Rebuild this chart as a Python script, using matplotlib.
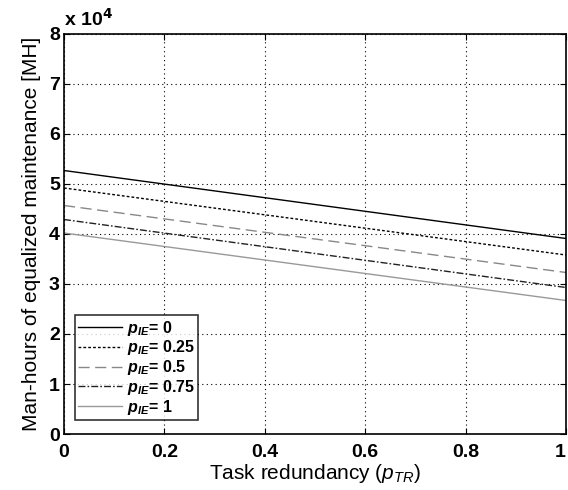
import numpy as np
import matplotlib.pyplot as plt

plt.rcParams["font.family"] = ["Liberation Sans", "DejaVu Sans"]
plt.rcParams["mathtext.fontset"] = "custom"
plt.rcParams["mathtext.it"] = "Liberation Sans:italic"
plt.rcParams["mathtext.bfit"] = "Liberation Sans:italic:bold"
plt.rcParams["mathtext.rm"] = "Liberation Sans"

# task redundancy p_TR
p_tr = [0.0, 1.0]
# man-hours of equalized maintenance [MH], one series per p_IE
mh_ie_0 = [52700, 39100]
mh_ie_025 = [49200, 35800]
mh_ie_05 = [45700, 32300]
mh_ie_075 = [42900, 29300]
mh_ie_1 = [40200, 26700]
labels = ["0", "0.25", "0.5", "0.75", "1"]

series = [mh_ie_0, mh_ie_025, mh_ie_05, mh_ie_075, mh_ie_1]
styles = [
    dict(color="black", linestyle="-", linewidth=1.0),
    dict(color="black", linestyle=(0, (2, 1.5)), linewidth=1.0),
    dict(color="#888888", linestyle=(0, (8, 4)), linewidth=1.0),
    dict(color="#222222", linestyle=(0, (5, 1.5, 1.2, 1.5)), linewidth=1.0),
    dict(color="#999999", linestyle="-", linewidth=1.0),
]

fig = plt.figure(figsize=(5.68, 4.9), dpi=100)
ax = fig.add_axes([64 / 568, 56 / 490, 502 / 568, 400 / 490])

for vals, st, lab in zip(series, styles, labels):
    ax.plot(p_tr, np.array(vals) / 1e4,
            label=r"$\mathbfit{p}_{\mathbfit{IE}}$= " + lab, **st)

ax.set_xlim(0, 1)
ax.set_ylim(0, 8)
ax.set_xticks(np.arange(0, 1.01, 0.2))
ax.set_xticklabels(["0", "0.2", "0.4", "0.6", "0.8", "1"])
ax.set_yticks(range(9))
ax.grid(True, color="black", linestyle=(0, (1, 3)), linewidth=0.8)
ax.tick_params(direction="in", length=4, width=0.8, labelsize=14, top=True, right=True)
ax.tick_params(axis="x", pad=7)
ax.tick_params(axis="y", pad=3)
for t in ax.get_xticklabels() + ax.get_yticklabels():
    t.set_fontweight("bold")
ax.get_xticklabels()[-1].set_horizontalalignment("right")
for s in ax.spines.values():
    s.set_linewidth(1.2)

ax.set_xlabel(r"Task redundancy ($p_{TR}$)", fontsize=15, labelpad=1)
ax.set_ylabel("Man-hours of equalized maintenance [MH]", fontsize=15, labelpad=6)
ax.text(0.0, 1.01, r"x 10$^{\mathbf{4}}$", transform=ax.transAxes, fontsize=14,
        fontweight="bold", ha="left", va="bottom")

leg = ax.legend(loc="lower left", bbox_to_anchor=(0.022, 0.035), fontsize=11.5,
                frameon=True, fancybox=False, borderaxespad=0, handlelength=2.75,
                labelspacing=0.05, borderpad=0.2, handletextpad=0.3)
leg.get_frame().set_edgecolor("black")
leg.get_frame().set_linewidth(1.2)
for t in leg.get_texts():
    t.set_fontweight("bold")

fig.savefig("out.png", dpi=100)
